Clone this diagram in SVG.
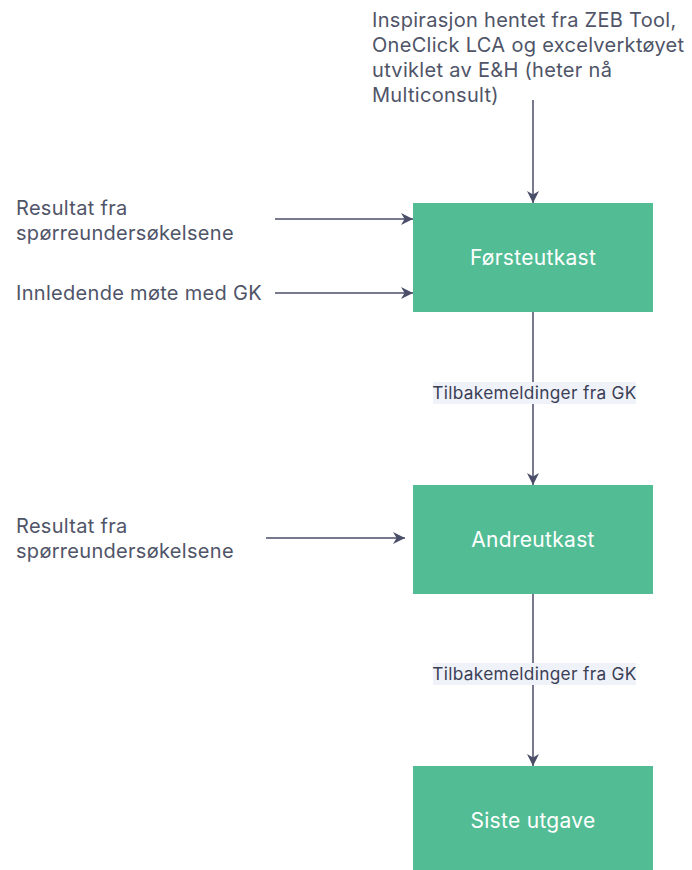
<svg xmlns="http://www.w3.org/2000/svg" width="692" height="870" viewBox="0 0 692 870">
<defs>
<marker id="arr" viewBox="0 0 10 10" refX="10" refY="5" markerWidth="12" markerHeight="12" markerUnits="userSpaceOnUse" orient="auto">
<path d="M0,0 L10,5 L0,10 L3,5 Z" fill="#4a4e69"/>
</marker>
<style>
.t{font-family:Inter,"Noto Sans",sans-serif;font-size:20px;letter-spacing:0.3px;fill:#4f5468}
.n{fill:#52bd94}
.nt{font-family:Inter,"Noto Sans",sans-serif;font-size:21px;letter-spacing:0.3px;fill:#ffffff;text-anchor:middle}
.c{stroke:#4a4e69;stroke-width:1.5;fill:none;marker-end:url(#arr)}
.lb{fill:#f0f2fa}
.lt{font-family:Inter,"Noto Sans",sans-serif;font-size:17.3px;letter-spacing:0.3px;fill:#3b3f55;text-anchor:middle}
</style>
</defs>
<rect width="692" height="870" fill="#ffffff"/>
<g id="connectors">
<line class="c" x1="533" y1="100" x2="533" y2="203"/>
<line class="c" x1="275" y1="219" x2="413" y2="219"/>
<line class="c" x1="275" y1="293" x2="413" y2="293"/>
<line class="c" x1="533" y1="312" x2="533" y2="485"/>
<line class="c" x1="266" y1="538" x2="405" y2="538"/>
<line class="c" x1="533" y1="594" x2="533" y2="766"/>
<g id="label1"><rect class="lb" x="433" y="382" width="203" height="22"/><text class="lt" x="534.5" y="398.5">Tilbakemeldinger fra GK</text></g>
<g id="label2"><rect class="lb" x="433" y="663" width="203" height="22"/><text class="lt" x="534.5" y="679.5">Tilbakemeldinger fra GK</text></g>
</g>
<g id="src-top"><text class="t"><tspan x="372" y="27">Inspirasjon hentet fra ZEB Tool,</tspan><tspan x="372" y="52">OneClick LCA og excelverktøyet</tspan><tspan x="372" y="77">utviklet av E&amp;H (heter nå</tspan><tspan x="372" y="102">Multiconsult)</tspan></text></g>
<g id="src-res1"><text class="t"><tspan x="16" y="215">Resultat fra</tspan><tspan x="16" y="240">spørreundersøkelsene</tspan></text></g>
<g id="src-mote"><text class="t" x="16" y="300">Innledende møte med GK</text></g>
<g id="src-res2"><text class="t"><tspan x="16" y="533">Resultat fra</tspan><tspan x="16" y="558">spørreundersøkelsene</tspan></text></g>
<g id="node-forste"><rect class="n" x="413" y="203" width="240" height="109"/><text class="nt" x="533" y="265">Førsteutkast</text></g>
<g id="node-andre"><rect class="n" x="413" y="485" width="240" height="109"/><text class="nt" x="533" y="547">Andreutkast</text></g>
<g id="node-siste"><rect class="n" x="413" y="766" width="240" height="109"/><text class="nt" x="533" y="828">Siste utgave</text></g>
</svg>
